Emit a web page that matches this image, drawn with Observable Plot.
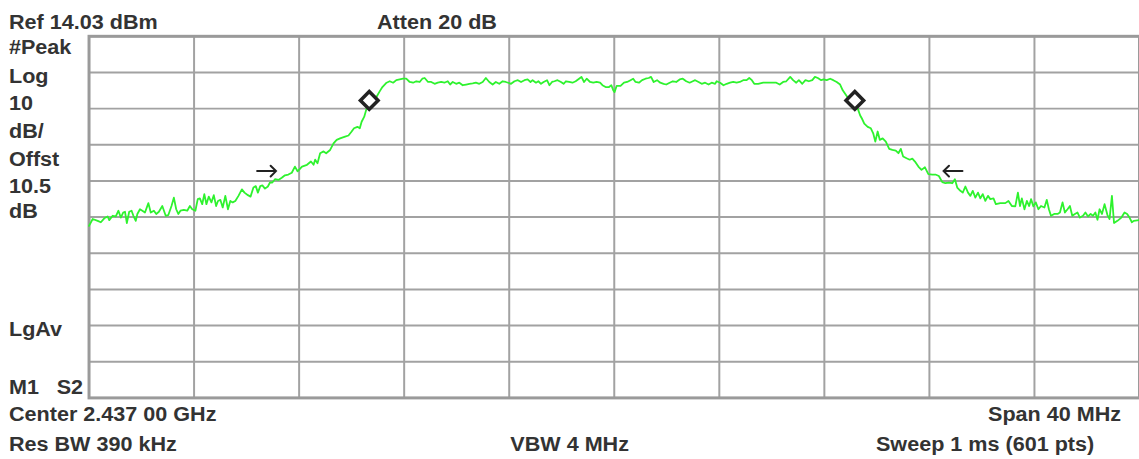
<!DOCTYPE html>
<html><head><meta charset="utf-8">
<script src="https://cdn.jsdelivr.net/npm/d3@7"></script>
<script src="https://cdn.jsdelivr.net/npm/@observablehq/plot@0.6"></script>
<style>
html,body{margin:0;padding:0;background:#fff;overflow:hidden;width:1139px;height:459px;}
#chart{position:relative;width:1139px;height:459px;overflow:hidden;}
</style></head><body><div id="chart"></div>
<script>
// Instrument settings
const refLevel = 14.03;   // dBm (top graticule line)
const dbPerDiv = 10;      // dB per vertical division
const vDivisions = 10;
const spanMHz = 40;       // centre 2.437 GHz
const hDivisions = 10;

// Trace: frequency offset from centre (MHz) and level (dBm)
const freqMHz = [
-20.0,-19.86,-19.67,-19.55,-19.42,-19.29,-19.23,-19.10,-18.98,-18.88,
-18.79,-18.70,-18.63,-18.56,-18.47,-18.38,-18.31,-18.22,-18.16,-18.06,
-17.97,-17.87,-17.74,-17.65,-17.53,-17.44,-17.34,-17.21,-17.08,-16.98,
-16.86,-16.77,-16.68,-16.60,-16.52,-16.39,-16.26,-16.16,-16.07,-15.95,
-15.86,-15.78,-15.69,-15.61,-15.53,-15.44,-15.34,-15.25,-15.16,-15.09,
-15.00,-14.91,-14.81,-14.71,-14.62,-14.53,-14.43,-14.31,-14.18,-14.08,
-13.95,-13.85,-13.74,-13.65,-13.57,-13.48,-13.40,-13.30,-13.19,-13.11,
-13.02,-12.92,-12.79,-12.66,-12.54,-12.41,-12.28,-12.16,-12.06,-11.89,
-11.70,-11.55,-11.45,-11.39,-11.30,-11.20,-11.07,-10.97,-10.82,-10.69,
-10.57,-10.44,-10.25,-10.12,-10.00,-9.91,-9.78,-9.69,-9.62,-9.52,
-9.43,-9.33,-9.20,-9.05,-8.95,-8.83,-8.67,-8.55,-8.42,-8.30,
-8.17,-8.04,-7.92,-7.79,-7.66,-7.54,-7.41,-7.31,-7.22,-7.09,
-6.97,-6.84,-6.72,-6.59,-6.47,-6.34,-6.25,-6.15,-6.02,-5.90,
-5.77,-5.64,-5.52,-5.39,-5.27,-5.14,-5.01,-4.89,-4.76,-4.63,
-4.51,-4.38,-4.25,-4.13,-3.93,-3.80,-3.67,-3.55,-3.42,-3.30,
-3.19,-3.11,-2.98,-2.89,-2.79,-2.69,-2.56,-2.47,-2.37,-2.28,
-2.16,-2.03,-1.93,-1.84,-1.72,-1.59,-1.47,-1.34,-1.25,-1.15,
-1.05,-0.92,-0.80,-0.67,-0.54,-0.45,-0.33,-0.20,-0.11,-0.04,
0.01,0.09,0.24,0.37,0.49,0.62,0.72,0.81,0.94,1.06,
1.19,1.31,1.40,1.50,1.63,1.75,1.88,1.98,2.11,2.23,
2.36,2.49,2.61,2.74,2.87,2.99,3.08,3.21,3.33,3.46,
3.59,3.71,3.84,3.90,4.03,4.16,4.28,4.41,4.53,4.66,
4.78,4.91,5.04,5.14,5.24,5.33,5.48,5.67,5.92,6.17,
6.30,6.43,6.55,6.70,6.81,6.93,7.03,7.16,7.28,7.41,
7.54,7.64,7.75,7.88,7.97,8.09,8.22,8.34,8.47,8.60,
8.70,8.83,8.95,9.14,9.27,9.36,9.43,9.52,9.65,9.77,
9.86,9.94,10.03,10.11,10.22,10.34,10.47,10.59,10.72,10.82,
10.91,11.00,11.13,11.25,11.35,11.45,11.58,11.70,11.83,11.96,
12.11,12.23,12.36,12.49,12.61,12.74,12.87,12.97,13.06,13.18,
13.27,13.37,13.47,13.56,13.65,13.75,13.85,13.94,14.03,14.13,
14.23,14.32,14.44,14.53,14.70,14.89,15.01,15.14,15.27,15.37,
15.45,15.52,15.62,15.71,15.80,15.87,15.96,16.05,16.15,16.25,
16.38,16.47,16.55,16.63,16.75,16.88,16.97,17.07,17.16,17.26,
17.35,17.44,17.54,17.64,17.73,17.85,17.94,18.04,18.14,18.23,
18.32,18.40,18.48,18.57,18.67,18.78,18.86,18.95,19.03,19.16,
19.31,19.43,19.53,19.62,19.71,19.78,20.0
];
const levelDbm = [
-38.4,-36.5,-37.0,-37.4,-36.3,-35.8,-36.8,-35.6,-35.8,-34.2,
-36.1,-34.7,-34.5,-37.6,-34.5,-34.2,-35.6,-37.0,-35.1,-33.8,
-34.2,-34.7,-32.1,-34.7,-34.2,-35.1,-34.5,-32.9,-35.6,-35.4,
-32.9,-30.6,-33.8,-35.1,-34.2,-34.0,-34.2,-32.9,-33.8,-34.2,
-31.0,-30.8,-32.4,-29.6,-32.4,-30.3,-31.9,-29.9,-32.9,-31.5,
-31.2,-33.3,-30.1,-33.8,-31.5,-31.9,-31.5,-30.1,-28.3,-29.2,
-29.9,-30.3,-27.8,-27.4,-29.2,-27.4,-27.2,-28.1,-27.5,-26.4,
-26.4,-25.5,-25.7,-25.1,-24.4,-24.2,-23.7,-22.0,-23.3,-22.0,
-21.5,-20.6,-21.5,-20.1,-21.1,-18.3,-17.8,-18.3,-17.4,-15.6,
-14.6,-14.2,-13.7,-13.4,-12.3,-11.4,-11.0,-11.4,-9.6,-8.2,
-5.9,-4.6,-3.9,-2.7,-1.4,0.0,1.2,1.6,1.2,1.9,
2.1,2.3,2.3,1.4,1.2,1.6,1.4,2.3,2.5,1.4,
1.4,0.9,1.2,1.4,1.2,1.6,0.7,1.4,0.9,1.2,
0.5,0.7,0.9,1.0,1.2,0.9,1.4,2.5,1.4,0.7,
1.4,0.9,1.6,1.4,0.9,1.6,1.9,1.4,1.9,2.1,
1.4,1.9,1.2,1.6,0.9,1.4,1.9,0.5,1.4,1.6,
1.9,1.4,0.9,1.6,1.4,1.2,1.6,2.3,2.8,1.4,
2.3,1.4,1.2,1.4,1.2,0.5,0.0,0.0,0.5,-0.9,
-1.4,0.3,0.3,1.2,1.4,1.9,2.3,1.4,1.2,1.9,
2.3,2.5,2.8,1.4,1.9,1.2,0.9,0.7,1.2,1.6,
1.4,2.1,2.3,1.6,1.2,1.6,1.9,1.4,0.9,1.2,
0.7,1.2,0.9,1.6,1.2,0.5,0.9,1.2,1.4,1.2,
1.4,1.9,1.9,2.5,1.9,0.9,0.9,1.2,1.2,1.2,
0.7,1.4,1.6,2.8,1.9,1.2,1.9,0.9,1.9,1.6,
1.9,2.8,2.5,1.9,2.1,1.9,2.3,1.9,1.4,0.7,
-0.9,-2.3,-3.6,-5.0,-5.9,-7.8,-8.7,-10.1,-11.0,-11.4,
-12.8,-15.1,-12.3,-14.6,-14.2,-15.1,-17.1,-17.4,-17.6,-18.3,
-17.1,-19.2,-19.7,-20.1,-19.8,-20.6,-22.0,-22.9,-22.2,-24.1,
-24.2,-24.2,-24.6,-26.3,-26.6,-26.4,-26.6,-25.5,-27.8,-28.7,
-29.2,-27.5,-29.2,-30.1,-28.7,-30.6,-29.2,-30.8,-29.6,-31.5,
-30.1,-31.0,-30.8,-32.4,-32.1,-32.1,-31.5,-32.9,-33.0,-29.2,
-32.9,-30.8,-33.8,-31.5,-32.9,-31.0,-33.0,-31.9,-33.8,-32.9,
-33.3,-31.2,-33.8,-35.6,-35.1,-35.1,-34.7,-31.9,-34.7,-33.8,
-32.9,-35.6,-35.1,-34.7,-36.1,-35.6,-34.7,-35.8,-35.1,-35.6,
-34.7,-36.7,-33.8,-35.1,-32.4,-35.4,-36.5,-30.1,-37.6,-37.0,
-36.1,-34.7,-35.1,-36.1,-37.4,-37.0,-36.8
];

// Diamond markers (bandwidth markers)
const markerFreq = [-9.33, 9.16];
const markerLevel = [-3.7, -3.7];

// Integration-edge arrows (tip position and pointing direction)
const arrowFreq = [-12.88, 12.54];
const arrowLevel = [-23.25, -23.25];
const arrowDirection = ["right", "left"];

// Annotation texts
const headerLeft = ["Ref 14.03 dBm"];
const headerMid = ["Atten 20 dB"];
const sideLabels = ["#Peak", "Log", "10", "dB/", "Offst", "10.5", "dB"];
const detectorLabel = "LgAv";
const markerLabels = ["M1", "S2"];
const footer = {
  center: "Center 2.437 00 GHz",
  span: "Span 40 MHz",
  rbw: "Res BW 390 kHz",
  vbw: "VBW 4 MHz",
  sweep: "Sweep 1 ms (601 pts)"
};

// Build tables for the library
const trace = freqMHz.map((f, i) => ({f, d: levelDbm[i]}));
const markers = markerFreq.map((f, i) => ({f, d: markerLevel[i]}));
const arrows = arrowFreq.map((f, i) => ({f, d: arrowLevel[i], dir: arrowDirection[i]}));
const xGrid = d3.range(hDivisions + 1).map(k => -spanMHz / 2 + k * spanMHz / hDivisions);
const yGrid = d3.range(vDivisions + 1).map(k => refLevel - k * dbPerDiv);

const gridColor = "#a2a2a2";
const plot = Plot.plot({
  width: 1145, height: 459,
  marginTop: 36, marginBottom: 59.5, marginLeft: 89, marginRight: 0,
  x: {domain: [-spanMHz / 2, spanMHz / 2], axis: null},
  y: {domain: [refLevel - dbPerDiv * vDivisions, refLevel], axis: null},
  style: {background: "#fff", overflow: "visible"},
  marks: [
    Plot.ruleX(xGrid, {stroke: gridColor, strokeWidth: 2}),
    Plot.ruleY(yGrid, {stroke: gridColor, strokeWidth: 2}),
    Plot.frame({stroke: "#9a9a9a", strokeWidth: 3}),
    Plot.line(trace, {x: "f", y: "d", stroke: "#2ef22e", strokeWidth: 1.8}),
    Plot.vector(arrows, {x: "f", y: "d", length: 19, rotate: d => d.dir === "right" ? 90 : -90,
      anchor: "end", r: 5, stroke: "#222", strokeWidth: 2, strokeLinejoin: "miter"}),
    Plot.dot(markers, {x: "f", y: "d", symbol: "diamond2", r: 8, stroke: "#222", strokeWidth: 3.5, fill: "#fff"})
  ]
});
document.getElementById("chart").appendChild(plot);

// Instrument annotation texts
const labelLayout = [
  {t: headerLeft[0], x: 9, y: 29},
  {t: headerMid[0], x: 379, y: 29},
  ...sideLabels.map((t, i) => ({t, x: 9, y: [54, 83, 111, 139, 167, 194, 219][i]})),
  {t: detectorLabel, x: 9, y: 338},
  {t: markerLabels[0], x: 9, y: 396},
  {t: markerLabels[1], x: 57, y: 396},
  {t: footer.center, x: 9, y: 423},
  {t: footer.rbw, x: 9, y: 453},
  {t: footer.vbw, x: 513, y: 453},
  {t: footer.span, x: 1127, y: 423, end: true},
  {t: footer.sweep, x: 1100, y: 453, end: true}
];
d3.select(plot).append("g")
  .attr("font-family", "'Liberation Sans', Arial, sans-serif")
  .attr("font-weight", "bold")
  .attr("font-size", 20)
  .attr("fill", "#333")
  .selectAll("text").data(labelLayout).join("text")
  .attr("transform", d => `translate(${d.x},${d.y}) scale(1.085,1)`)
  .attr("text-anchor", d => d.end ? "end" : "start")
  .text(d => d.t);
</script></body></html>
